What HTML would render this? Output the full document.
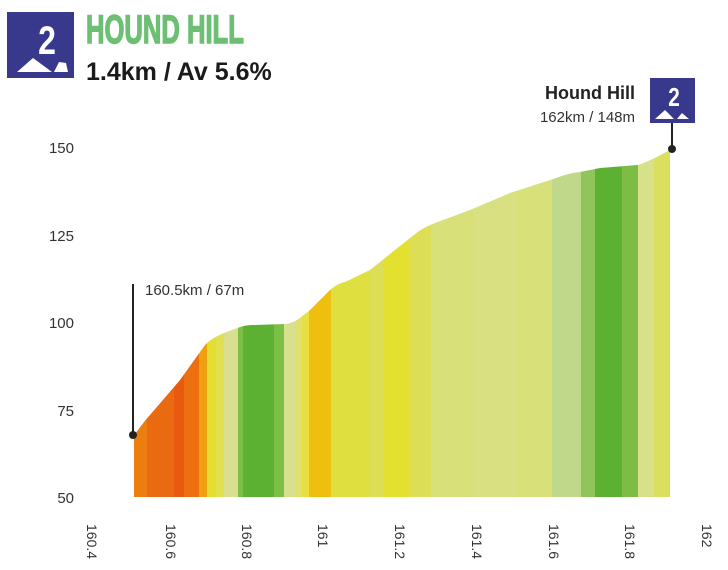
<!DOCTYPE html>
<html><head><meta charset="utf-8"><style>
html,body{margin:0;padding:0;background:#fff;}
body{width:728px;height:570px;overflow:hidden;position:relative;font-family:"Liberation Sans",sans-serif;}
</style></head><body>
<svg width="728" height="570" viewBox="0 0 728 570" xmlns="http://www.w3.org/2000/svg" style="position:absolute;left:0;top:0">
<defs>
<clipPath id="p"><path d="M134,435 C140,428 145,420 150,415 L180,380 L205,345 C212,338 220,334 235,329 C242,326 246,325 255,325 L285,324 C295,323 300,318 310,310 L330,290 C336,285 340,283 345,282 L370,270 L385,258 L410,238 C418,232 422,228 435,223 L470,210 L510,193 L550,180 C565,175 570,173 580,172 L600,168 L637,165 C645,163 650,160 655,158 L670,150 L670,497 L134,497 Z"/></clipPath>
</defs>
<g clip-path="url(#p)">
<rect x="132" y="140" width="15" height="360" fill="#ec7e10"/>
<rect x="147" y="140" width="27" height="360" fill="#e96a10"/>
<rect x="174" y="140" width="10" height="360" fill="#e85a10"/>
<rect x="184" y="140" width="15" height="360" fill="#ec7010"/>
<rect x="199" y="140" width="8" height="360" fill="#efa010"/>
<rect x="207" y="140" width="9" height="360" fill="#e5dd30"/>
<rect x="216" y="140" width="8" height="360" fill="#e0e050"/>
<rect x="224" y="140" width="14" height="360" fill="#d8e090"/>
<rect x="238" y="140" width="5" height="360" fill="#7cbf45"/>
<rect x="243" y="140" width="31" height="360" fill="#5cb133"/>
<rect x="274" y="140" width="10" height="360" fill="#7bbf45"/>
<rect x="284" y="140" width="11" height="360" fill="#d8e090"/>
<rect x="295" y="140" width="7" height="360" fill="#e0e070"/>
<rect x="302" y="140" width="7" height="360" fill="#e5e040"/>
<rect x="309" y="140" width="22" height="360" fill="#efbf10"/>
<rect x="331" y="140" width="39" height="360" fill="#dfe040"/>
<rect x="370" y="140" width="14" height="360" fill="#dcdf55"/>
<rect x="384" y="140" width="25" height="360" fill="#e3e030"/>
<rect x="409" y="140" width="22" height="360" fill="#dcdf55"/>
<rect x="431" y="140" width="43" height="360" fill="#d8e07a"/>
<rect x="474" y="140" width="42" height="360" fill="#d8e082"/>
<rect x="516" y="140" width="36" height="360" fill="#d8e07a"/>
<rect x="552" y="140" width="29" height="360" fill="#c0d88a"/>
<rect x="581" y="140" width="14" height="360" fill="#8fc55a"/>
<rect x="595" y="140" width="27" height="360" fill="#5cb133"/>
<rect x="622" y="140" width="16" height="360" fill="#7dbd45"/>
<rect x="638" y="140" width="16" height="360" fill="#d8e08a"/>
<rect x="654" y="140" width="18" height="360" fill="#dadf60"/>
</g>
<g font-size="15" fill="#333" text-anchor="end">
<text x="74" y="153">150</text><text x="74" y="241">125</text><text x="74" y="328">100</text><text x="74" y="416">75</text><text x="74" y="503">50</text>
</g>
<g font-size="14" fill="#333">
<text transform="translate(87,524) rotate(90)">160.4</text>
<text transform="translate(166,524) rotate(90)">160.6</text>
<text transform="translate(242,524) rotate(90)">160.8</text>
<text transform="translate(318,524) rotate(90)">161</text>
<text transform="translate(395,524) rotate(90)">161.2</text>
<text transform="translate(472,524) rotate(90)">161.4</text>
<text transform="translate(549,524) rotate(90)">161.6</text>
<text transform="translate(625,524) rotate(90)">161.8</text>
<text transform="translate(702,524) rotate(90)">162</text>
</g>
<line x1="133" y1="284" x2="133" y2="435" stroke="#222" stroke-width="2"/>
<circle cx="133" cy="435" r="4" fill="#222"/>
<text x="145" y="295" font-size="15" fill="#333">160.5km / 67m</text>
<line x1="672" y1="123" x2="672" y2="149" stroke="#222" stroke-width="2"/>
<circle cx="672" cy="149" r="4" fill="#222"/>
<text x="635" y="99" font-size="18" font-weight="bold" fill="#222" text-anchor="end">Hound Hill</text>
<text x="635" y="122" font-size="15" fill="#333" text-anchor="end">162km / 148m</text>
<rect x="650" y="78" width="45" height="45" fill="#38388c"/>
<text x="674" y="106" font-size="26" font-weight="bold" fill="#fff" text-anchor="middle" transform="translate(674,0) scale(0.8,1) translate(-674,0)">2</text>
<polygon points="655,119 665,110 674,119" fill="#fff"/><polygon points="677,119 682,113 689,119" fill="#fff"/>
<rect x="7" y="12" width="67" height="66" fill="#38388c"/>
<text x="47" y="54" font-size="40" font-weight="bold" fill="#fff" text-anchor="middle" transform="translate(47,0) scale(0.8,1) translate(-47,0)">2</text>
<polygon points="17,72 33,58 52,72" fill="#fff"/><polygon points="54,72 59,62 66,63 68,72" fill="#fff"/>
<text x="86" y="43" font-size="40" font-weight="bold" fill="#6cbf73" stroke="#6cbf73" stroke-width="1.5" transform="translate(86,0) scale(0.64,1) translate(-86,0)">HOUND HILL</text>
<text x="86" y="80" font-size="25" font-weight="bold" fill="#1a1a1a">1.4km / Av 5.6%</text>
</svg>
</body></html>
